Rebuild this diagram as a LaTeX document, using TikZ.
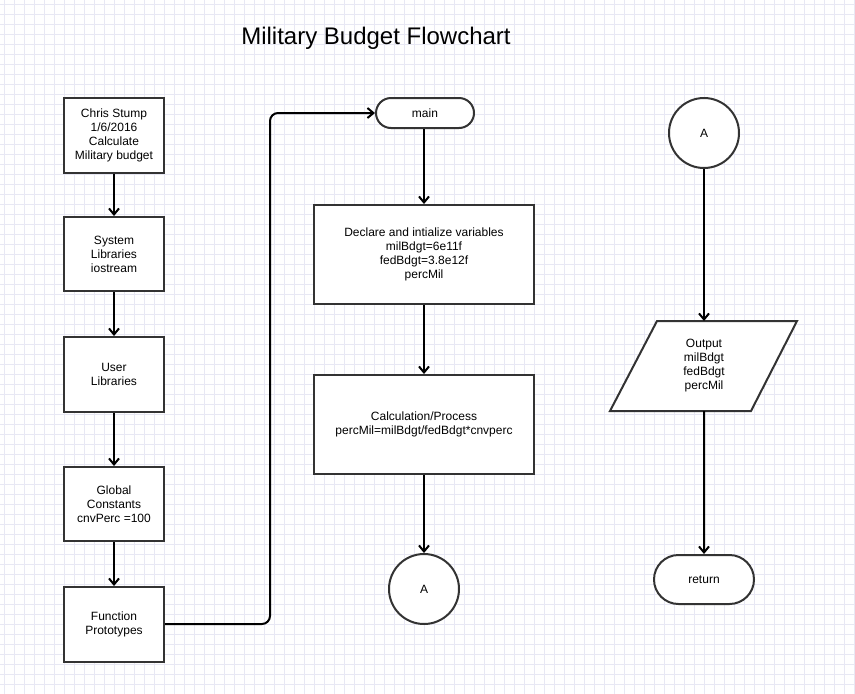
\documentclass[tikz,border=0pt]{standalone}
\usepackage{fontspec}
\setmainfont{Liberation Sans}
\usetikzlibrary{arrows.meta,shapes.geometric,shapes.misc}
\definecolor{gridc}{HTML}{E8E8F4}
\definecolor{edgec}{HTML}{333333}
\tikzset{
  every node/.style={font=\fontsize{12}{14}\selectfont, align=center},
  procbox/.style={draw=edgec, line width=2pt, fill=white, inner sep=0pt},
  termbox/.style={draw=edgec, line width=2pt, fill=white, rounded rectangle, inner sep=0pt},
  connbox/.style={draw=edgec, line width=2pt, fill=white, circle, minimum size=70pt, inner sep=0pt},
  flow/.style={line width=2pt, -{Straight Barb[length=6pt,width=10pt,line width=2pt]}},
}
\begin{document}
\begin{tikzpicture}[x=1pt,y=-1pt]
\useasboundingbox (0,0) rectangle (855,694);
\fill[white] (0,0) rectangle (855,694);
\foreach \i in {0,10,...,850} {\draw[gridc, line width=0.5pt] (\i+4,0) -- (\i+4,694);}
\foreach \j in {0,10,...,690} {\draw[gridc, line width=0.5pt] (0,\j+4) -- (855,\j+4);}

\node[font=\fontsize{24}{28}\selectfont] (title) at (376,38) {Military Budget Flowchart};

\node[procbox, minimum width=100pt, minimum height=75pt] (b1) at (114,135.5) {Chris Stump\\1/6/2016\\Calculate\\Military budget};
\node[procbox, minimum width=100pt, minimum height=74pt] (b2) at (114,254) {System\\Libraries\\iostream};
\node[procbox, minimum width=100pt, minimum height=75pt] (b3) at (114,374.5) {User\\Libraries};
\node[procbox, minimum width=100pt, minimum height=74pt] (b4) at (114,504) {Global\\Constants\\cnvPerc =100};
\node[procbox, minimum width=100pt, minimum height=75pt] (b5) at (114,624.5) {Function\\Prototypes};

\node[termbox, minimum width=98pt, minimum height=30pt] (main) at (425,113) {main};
\node[procbox, minimum width=220pt, minimum height=99pt] (decl) at (424,254.5) {Declare and intialize variables\\milBdgt=6e11f\\fedBdgt=3.8e12f\\percMil};
\node[procbox, minimum width=220pt, minimum height=99pt] (calc) at (424,424.5) {Calculation/Process\\percMil=milBdgt/fedBdgt*cnvperc};
\node[connbox] (a1) at (424,589) {A};

\node[connbox] (a2) at (704,133) {A};
\draw[draw=edgec, line width=2pt, fill=white, line join=miter] (657,321) -- (797,321) -- (751,411) -- (610,411) -- cycle;
\node (out) at (704,366) {Output\\milBdgt\\fedBdgt\\percMil};
\coordinate (outtop) at (704,321);
\coordinate (outbot) at (704,411);
\node[termbox, minimum width=100pt, minimum height=49pt] (ret) at (704,579.5) {return};

\draw[flow] (b1) -- (b2);
\draw[flow] (b2) -- (b3);
\draw[flow] (b3) -- (b4);
\draw[flow] (b4) -- (b5);
\coordinate (c1) at (270,624);
\coordinate (c2) at (270,113);
\draw[flow, rounded corners=8pt] (b5.east |- 0,624) -- (c1) -- (c2) -- (main.west);
\draw[flow] (main.south -| decl.north) -- (decl.north);
\draw[flow] (decl) -- (calc);
\draw[flow] (calc) -- (a1);
\draw[flow] (a2) -- (outtop);
\draw[flow] (outbot) -- (ret);
\end{tikzpicture}
\end{document}
